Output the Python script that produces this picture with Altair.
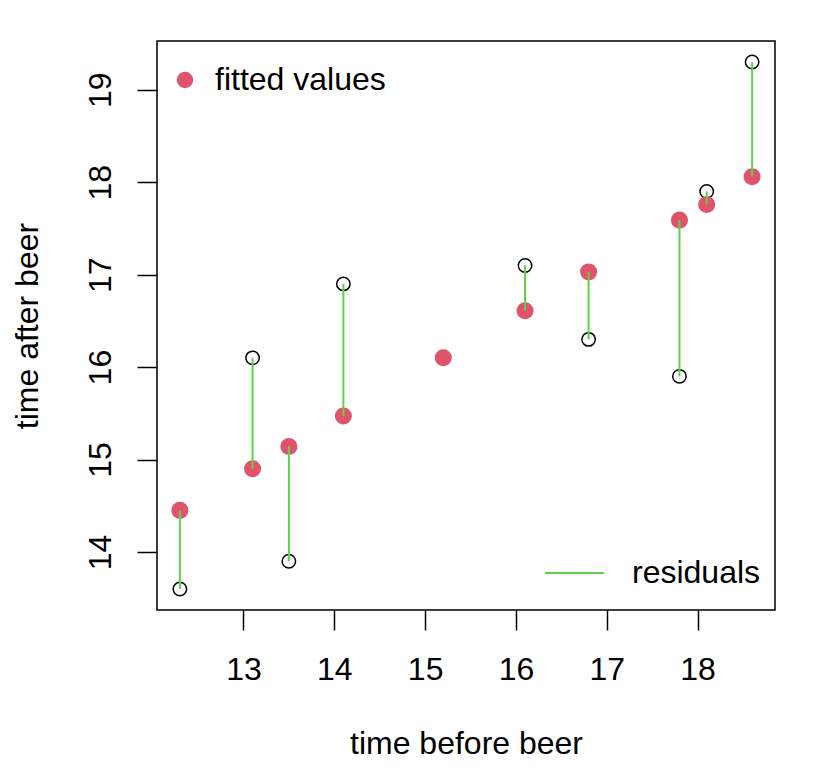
import altair as alt
import pandas as pd

# time before / after beer, and the fitted values of the linear model
before = [12.3, 13.1, 13.5, 14.1, 15.2, 16.1, 16.8, 17.8, 18.1, 18.6]
after = [13.6, 16.1, 13.9, 16.9, 16.1, 17.1, 16.3, 15.9, 17.9, 19.3]
fitted = [14.45, 14.90, 15.14, 15.47, 16.10, 16.61, 17.03, 17.59, 17.76, 18.06]
x_ticks = [13, 14, 15, 16, 17, 18]
y_ticks = [14, 15, 16, 17, 18, 19]

df = pd.DataFrame({"before": before, "after": after, "fitted": fitted})

FONT = "Liberation Sans"
FS = 32
W, H = 618, 569

x_enc = alt.X(
    "before:Q",
    scale=alt.Scale(domain=[12.048, 18.852], nice=False, zero=False),
    axis=alt.Axis(
        values=x_ticks, format="d", title="time before beer", labelPadding=24,
        titleX=W / 2, titleY=143, titleBaseline="alphabetic", titleAlign="center",
    ),
)
y_scale = alt.Scale(domain=[13.372, 19.528], nice=False, zero=False)
y_axis = alt.Axis(
    values=y_ticks, format="d", title="time after beer", labelAngle=-90,
    labelAlign="center", labelBaseline="alphabetic", labelPadding=27,
    titleX=-120, titleY=H / 2, titleBaseline="alphabetic", titleAlign="center",
)

base = alt.Chart(df)

observed = base.mark_point(
    shape="circle", filled=False, color="black", size=180, strokeWidth=1.5, opacity=1
).encode(x=x_enc, y=alt.Y("after:Q", scale=y_scale, axis=y_axis))

fit_pts = (
    base.transform_calculate(series="'fitted values'")
    .mark_point(shape="circle", filled=True, size=290, opacity=1)
    .encode(
        x="before:Q",
        y="fitted:Q",
        color=alt.Color(
            "series:N",
            scale=alt.Scale(domain=["fitted values"], range=["#DF536B"]),
            legend=alt.Legend(
                title=None, orient="none", legendX=12, legendY=23, padding=0,
                symbolType="circle", symbolSize=270, symbolStrokeWidth=0,
                labelFontSize=FS, labelFont=FONT, labelColor="black",
                labelOffset=14, labelLimit=0,
            ),
        ),
    )
)

resid = (
    base.transform_calculate(series="'residuals'")
    .mark_rule(strokeWidth=2)
    .encode(
        x="before:Q",
        y="after:Q",
        y2="fitted:Q",
        stroke=alt.Stroke(
            "series:N",
            scale=alt.Scale(domain=["residuals"], range=["#61D04F"]),
            legend=alt.Legend(
                title=None, orient="none", legendX=387, legendY=501.5, padding=0,
                symbolType="stroke", symbolSize=3481, symbolStrokeWidth=2,
                labelFontSize=FS, labelFont=FONT, labelColor="black",
                labelOffset=27, labelLimit=0,
            ),
        ),
    )
)

chart = (
    alt.layer(observed, fit_pts, resid)
    .properties(
        width=W, height=H,
        autosize=alt.AutoSizeParams(type="none"),
        padding={"left": 149, "top": 33, "right": 33, "bottom": 150},
    )
    .configure_view(stroke="black", strokeWidth=1.5)
    .configure_axis(
        domain=False, grid=False, ticks=True, tickSize=20, tickWidth=1.5,
        tickColor="black", labelFont=FONT, labelFontSize=FS, labelColor="black",
        titleFont=FONT, titleFontSize=FS, titleFontWeight="normal", titleColor="black",
    )
)

chart.save("out.html", embed_options={"renderer": "svg", "actions": False})
